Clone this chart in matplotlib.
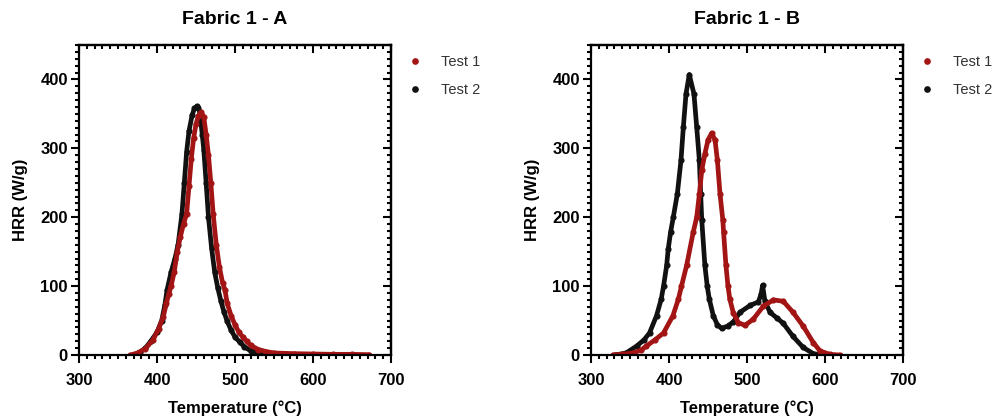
import matplotlib
matplotlib.use("Agg")
import matplotlib.pyplot as plt
from matplotlib.ticker import MultipleLocator

plt.rcParams['font.family'] = ['Liberation Sans', 'DejaVu Sans']

RED = '#A31515'
BLACK = '#111111'

# Fabric 1 - A
a_t1_temp = [366, 375, 385, 395, 402, 408, 412, 415, 418, 422, 426, 430, 434, 438,
             441, 444, 447, 450, 453, 457, 460, 463, 466, 469, 472, 476, 480, 484,
             487, 490, 495, 500, 505, 510, 515, 520, 530, 540, 550, 575, 600, 625,
             650, 672]
a_t1_hrr = [0, 3, 9, 22, 38, 55, 75, 88, 100, 120, 150, 172, 190, 205,
            245, 285, 315, 335, 347, 352, 345, 320, 290, 250, 205, 160, 128, 105,
            95, 75, 57, 44, 33, 26, 20, 14, 8, 5, 3, 2, 1.5, 1, 1, 0.5]

a_t2_temp = [370, 378, 385, 392, 400, 406, 410, 413, 418, 423, 427, 432, 435, 438,
             441, 445, 448, 451, 453, 455, 458, 460, 463, 466, 470, 474, 478, 482,
             486, 490, 495, 500, 506, 512, 520, 530, 540, 560, 600]
a_t2_hrr = [0, 4, 10, 20, 33, 50, 72, 95, 120, 140, 160, 205, 250, 295,
            325, 348, 358, 361, 359, 352, 320, 298, 250, 200, 155, 120, 97, 78,
            62, 49, 36, 26, 19, 12, 6, 3, 1.5, 0.5, 0]

# Fabric 1 - B
b_t1_temp = [328, 340, 354, 364, 371, 382, 393, 405, 412, 416, 422.6, 431, 435.5,
             439, 442, 446, 450, 454.7, 459, 462, 465.4, 469, 470, 473, 475.6, 478,
             482.5, 489, 497.4, 508, 521, 533.8, 546.5, 559, 572, 585, 593.6, 606,
             619]
b_t1_hrr = [0, 1, 3, 7, 13, 22, 32, 57, 81, 100, 130, 178, 200,
            234, 268, 292, 312, 322, 312, 283, 234, 196, 178, 130, 100, 81,
            61, 47, 43, 52, 71, 80, 78, 62, 42, 18, 6, 1, 0]

b_t2_temp = [331, 345, 358.5, 368, 375, 384, 390, 393, 397, 399, 402, 405.5, 410.7,
             415.4, 418.4, 421.8, 426, 432, 435.5, 438.9, 440.6, 442, 446, 449,
             451.7, 456.8, 462, 467.5, 475, 482.5, 491, 504, 514.5, 518, 520, 523,
             529.5, 538, 546.5, 559, 572, 585, 597]
b_t2_hrr = [0, 3, 13, 22, 32, 57, 81, 100, 130, 154, 178, 200, 234,
            283, 331, 379, 407, 379, 331, 283, 234, 196, 130, 100,
            81, 57, 44, 38.6, 42, 48, 62, 72, 77, 88, 101, 78,
            62, 54, 46, 27, 11, 2, 0]

panels = [
    ("Fabric 1 - A", a_t1_temp, a_t1_hrr, a_t2_temp, a_t2_hrr),
    ("Fabric 1 - B", b_t1_temp, b_t1_hrr, b_t2_temp, b_t2_hrr),
]


def style_axis(ax):
    ax.set_xlim(300, 700)
    ax.set_ylim(0, 450)
    ax.xaxis.set_major_locator(MultipleLocator(100))
    ax.xaxis.set_minor_locator(MultipleLocator(10))
    ax.yaxis.set_minor_locator(MultipleLocator(10))
    ax.set_yticks([0, 100, 200, 300, 400])
    for s in ax.spines.values():
        s.set_linewidth(1.6)
    # outward ticks on bottom/left, inward mirrored ticks on top/right
    ax.tick_params(which='both', bottom=True, left=True, top=False, right=False,
                   direction='out', width=1.5, labelsize=12)
    ax.tick_params(which='major', length=6)
    ax.tick_params(which='minor', length=3.2)
    ax.tick_params(axis='x', pad=7)
    ax.tick_params(axis='y', pad=2)
    for lbl in ax.get_xticklabels() + ax.get_yticklabels():
        lbl.set_fontweight('bold')
    sec = ax.secondary_xaxis('top')
    sec.xaxis.set_major_locator(MultipleLocator(100))
    sec.xaxis.set_minor_locator(MultipleLocator(10))
    sec.tick_params(which='both', direction='in', width=1.5, labeltop=False)
    sec.tick_params(which='major', length=6)
    sec.tick_params(which='minor', length=3.2)
    sec.spines['top'].set_linewidth(1.6)
    sey = ax.secondary_yaxis('right')
    sey.yaxis.set_major_locator(MultipleLocator(100))
    sey.yaxis.set_minor_locator(MultipleLocator(10))
    sey.tick_params(which='both', direction='in', width=1.5, labelright=False)
    sey.tick_params(which='major', length=6)
    sey.tick_params(which='minor', length=3.2)
    sey.spines['right'].set_linewidth(1.6)


fig = plt.figure(figsize=(10, 4.19), dpi=100)
lefts = [0.079, 0.591]

for left, (title, t1x, t1y, t2x, t2y) in zip(lefts, panels):
    ax = fig.add_axes([left, 0.1527, 0.312, 0.740])
    ax.plot(t2x, t2y, color=BLACK, lw=3.4, marker='o', ms=3.4,
            solid_capstyle='round', solid_joinstyle='round', label='Test 2')
    ax.plot(t1x, t1y, color=RED, lw=3.4, marker='o', ms=3.4,
            solid_capstyle='round', solid_joinstyle='round', label='Test 1')
    style_axis(ax)
    ax.set_title(title, fontsize=14, fontweight='bold', pad=15)
    ax.set_xlabel("Temperature (°C)", fontsize=12, fontweight='bold', labelpad=9)
    ax.set_ylabel("HRR (W/g)", fontsize=12, fontweight='bold', labelpad=9)

    # legend: dot markers only
    h1 = plt.Line2D([], [], color=RED, marker='o', ls='none', ms=3.8)
    h2 = plt.Line2D([], [], color=BLACK, marker='o', ls='none', ms=3.8)
    ax.legend([h1, h2], ['Test 1', 'Test 2'], loc='upper left',
              bbox_to_anchor=(1.01, 1.01), frameon=False, fontsize=10.5,
              handlelength=1.0, handletextpad=1.3, labelspacing=0.95,
              labelcolor='#333333')

fig.savefig("out.png", dpi=100)
